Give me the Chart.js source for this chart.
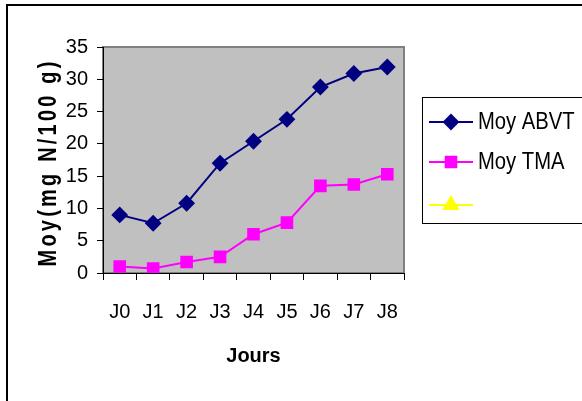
<!DOCTYPE html>
<html>
<head>
<meta charset="utf-8">
<script src="https://cdn.jsdelivr.net/npm/chart.js@4"></script>
<style>
    body { margin: 0; background: #fff; }
    canvas { display: block; }
</style>
</head>
<body>
<canvas id="moyChart" width="582" height="401"></canvas>
<script>
const jours = ['J0', 'J1', 'J2', 'J3', 'J4', 'J5', 'J6', 'J7', 'J8'];
const moyABVT = [9.0, 7.7, 10.8, 17.0, 20.4, 23.8, 28.8, 30.9, 31.9];
const moyTMA = [1.0, 0.7, 1.7, 2.5, 6.0, 7.8, 13.5, 13.7, 15.3];
const emptySerie = [null, null, null, null, null, null, null, null, null];

Chart.defaults.font.family = "'Liberation Sans', Arial, sans-serif";
Chart.defaults.color = '#000';

//* gray plot background + outer frame
const backPlugin = {
    id: 'backPlugin',
    beforeDraw(chart) {
        const ctx = chart.ctx;
        const a = chart.chartArea;
        ctx.save();
        ctx.fillStyle = '#c0c0c0';
        ctx.fillRect(a.left, a.top, a.right - a.left, a.bottom - a.top);
        ctx.strokeStyle = '#808080';
        ctx.lineWidth = 2;
        ctx.strokeRect(a.left, a.top, a.right - a.left, a.bottom - a.top);
        ctx.restore();
    },
    afterDraw(chart) {
        const ctx = chart.ctx;
        ctx.save();
        // outer frame
        ctx.strokeStyle = '#000';
        ctx.lineWidth = 2;
        ctx.strokeRect(7, 5, 620, 440);

        // y axis title, condensed with spaced letters
        ctx.translate(48, 164);
        ctx.rotate(-Math.PI / 2);
        ctx.scale(0.8, 1);
        ctx.font = "bold 25px 'Liberation Sans', Arial, sans-serif";
        ctx.letterSpacing = '4px';
        ctx.textAlign = 'center';
        ctx.textBaseline = 'middle';
        ctx.fillStyle = '#000';
        ctx.fillText('Moy(mg N/100 g)', 2, 1);
        ctx.restore();

        // legend box
        ctx.save();
        ctx.strokeStyle = '#000';
        ctx.lineWidth = 1;
        ctx.strokeRect(422.5, 97.5, 200, 126);
        const rows = [122, 162, 205];
        chart.data.datasets.forEach((ds, i) => {
            const y = rows[i];
            ctx.strokeStyle = ds.borderColor;
            ctx.lineWidth = 2;
            ctx.beginPath();
            ctx.moveTo(429, y);
            ctx.lineTo(473, y);
            ctx.stroke();
            ctx.fillStyle = ds.backgroundColor;
            Chart.helpers.drawPoint(ctx, {
                pointStyle: ds.pointStyle,
                radius: ds.legendRadius,
                borderWidth: 1
            }, 451, y);
            ctx.save();
            ctx.translate(478, y + 1);
            ctx.scale(0.88, 1);
            ctx.fillStyle = '#000';
            ctx.font = "23px 'Liberation Sans', Arial, sans-serif";
            ctx.textAlign = 'left';
            ctx.textBaseline = 'middle';
            ctx.fillText(ds.label, 0, 0);
            ctx.restore();
        });
        ctx.restore();
    }
};

const data = {
    labels: jours,
    datasets: [{
        label: 'Moy ABVT',
        data: moyABVT,
        borderColor: '#000080',
        backgroundColor: '#000080',
        borderWidth: 2,
        pointStyle: 'rectRot',
        pointRadius: 7,
        legendRadius: 7,
        tension: 0
    }, {
        label: 'Moy TMA',
        data: moyTMA,
        borderColor: '#ff00ff',
        backgroundColor: '#ff00ff',
        borderWidth: 2,
        pointStyle: 'rect',
        pointRadius: 7.5,
        legendRadius: 7.5,
        tension: 0
    }, {
        label: '',
        data: emptySerie,
        borderColor: '#ffff00',
        backgroundColor: '#ffff00',
        borderWidth: 2,
        pointStyle: 'triangle',
        pointRadius: 7,
        legendRadius: 8,
        tension: 0
    }]
};

const config = {
    type: 'line',
    data: data,
    options: {
        responsive: false,
        animation: false,
        layout: {
            padding: { left: 0, top: 47, right: 178, bottom: 0 }
        },
        scales: {
            x: {
                offset: true,
                grid: {
                    offset: true,
                    drawOnChartArea: false,
                    tickLength: 7,
                    tickColor: '#000',
                    tickWidth: 1
                },
                border: { color: '#000', width: 1 },
                ticks: {
                    font: { size: 20 },
                    padding: 20,
                    maxRotation: 0
                },
                title: {
                    display: true,
                    text: 'Jours',
                    font: { size: 20, weight: 'bold' },
                    padding: { top: 0, bottom: 33 }
                },
                afterFit(scale) { scale.height = 128; }
            },
            y: {
                min: 0,
                max: 35,
                grid: {
                    drawOnChartArea: false,
                    tickLength: 6,
                    tickColor: '#000',
                    tickWidth: 1
                },
                border: { color: '#000', width: 1 },
                ticks: {
                    stepSize: 5,
                    font: { size: 20 },
                    padding: 9
                },
                afterFit(scale) { scale.width = 103; }
            }
        },
        plugins: {
            legend: { display: false },
            tooltip: { enabled: false }
        }
    },
    plugins: [backPlugin]
};

var moyChart = new Chart(document.getElementById('moyChart'), config);
</script>
</body>
</html>
